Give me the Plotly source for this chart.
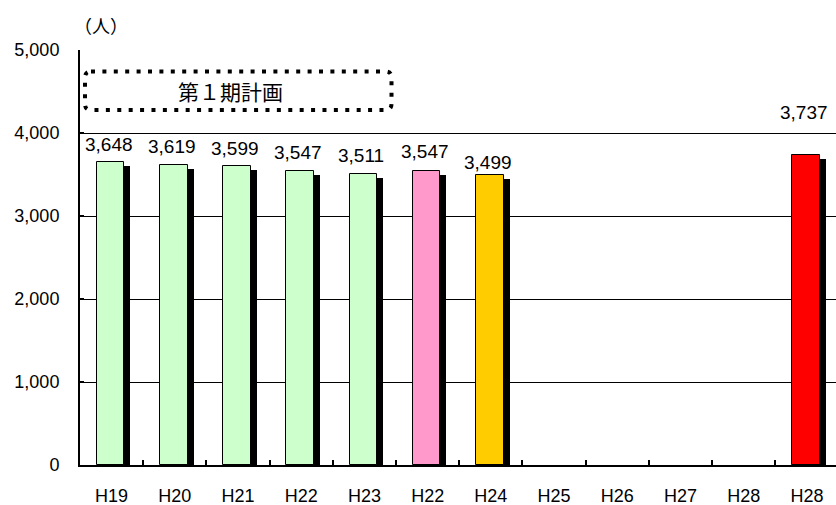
import plotly.graph_objects as go

# ---- data ----
categories = ["H19", "H20", "H21", "H22", "H23", "H22", "H24", "H25", "H26", "H27", "H28", "H28"]
values = [3648, 3619, 3599, 3547, 3511, 3547, 3499, None, None, None, None, 3737]
bar_colors = ["#CCFFCC", "#CCFFCC", "#CCFFCC", "#CCFFCC", "#CCFFCC", "#FF99CC", "#FFCC00",
              "#CCFFCC", "#CCFFCC", "#CCFFCC", "#CCFFCC", "#FF0000"]
y_ticks = [0, 1000, 2000, 3000, 4000, 5000]
grid_vals = [1000, 2000, 3000, 4000]
unit_label = "（人）"
box_label = "第１期計画"

# ---- style ----
W, H = 836, 505
ML, MR, MT, MB = 80, 0, 50, 40
PW, PH = W - ML - MR, H - MT - MB
Y_MAX = 5000
SHADOW_DROP = 4 * Y_MAX / PH          # ~4px in value units
label_shift = [18, 18, 18, 18, 18, 19, 12, 18, 18, 18, 18, 42]
NUM_FONT = "Liberation Sans, Arial, sans-serif"
CJK_FONT = "Noto Sans CJK JP, sans-serif"

x_idx = list(range(len(categories)))
shadow_vals = [None if v is None else v - SHADOW_DROP for v in values]

fig = go.Figure()
fig.add_trace(go.Bar(x=x_idx, y=shadow_vals, offset=-0.14, width=0.437,
                     marker=dict(color="black", line=dict(width=0)),
                     hoverinfo="skip", showlegend=False))
fig.add_trace(go.Bar(x=x_idx, y=values, offset=-0.235, width=0.437,
                     marker=dict(color=bar_colors, line=dict(color="black", width=1)),
                     showlegend=False))

annotations = []
for i, v in enumerate(values):
    if v is None:
        continue
    annotations.append(dict(x=i, y=v, xref="x", yref="y", text=f"{v:,}", showarrow=False,
                            yanchor="middle", xanchor="center", yshift=label_shift[i], xshift=-3,
                            font=dict(family=NUM_FONT, size=19, color="black")))

def px_to_paper(px, py):
    return (px - ML) / PW, (MT + PH - py) / PH

# unit label
ux, uy = px_to_paper(101, 25)
annotations.append(dict(x=ux, y=uy, xref="paper", yref="paper", text=unit_label, showarrow=False,
                        xanchor="center", yanchor="middle",
                        font=dict(family=CJK_FONT, size=18, color="black")))
# box label
bx, by = px_to_paper(230, 91)
annotations.append(dict(x=bx, y=by, xref="paper", yref="paper", text=box_label, showarrow=False,
                        xanchor="center", yanchor="middle",
                        font=dict(family=CJK_FONT, size=21, color="black")))

# dotted rounded box
L, R, T, B = px_to_paper(85, 0)[0], px_to_paper(391.5, 0)[0], px_to_paper(0, 71.5)[1], px_to_paper(0, 110)[1]
rx, ry = 6 / PW, 6 / PH
path = (f"M {L+rx},{T} L {R-rx},{T} Q {R},{T} {R},{T-ry} L {R},{B+ry} Q {R},{B} {R-rx},{B} "
        f"L {L+rx},{B} Q {L},{B} {L},{B+ry} L {L},{T-ry} Q {L},{T} {L+rx},{T} Z")
shapes = [dict(type="path", path=path, xref="paper", yref="paper",
               line=dict(color="black", width=4, dash="4px,7.4px"))]

fig.update_layout(
    width=W, height=H,
    margin=dict(l=ML, r=MR, t=MT, b=MB, pad=0, autoexpand=False),
    paper_bgcolor="white", plot_bgcolor="white",
    barmode="overlay", bargap=0,
    annotations=annotations, shapes=shapes,
    xaxis=dict(range=[-0.5, 11.46], tickmode="array", tickvals=x_idx, ticktext=categories,
               ticks="", showgrid=False, zeroline=False, automargin=False,
               showline=True, linecolor="black", linewidth=2,
               ticklabelstandoff=13,
               tickfont=dict(family=NUM_FONT, size=18, color="black"),
               minor=dict(tickmode="array", tickvals=[i + 0.5 for i in range(11)],
                          ticks="inside", ticklen=5, tickwidth=1.5, tickcolor="black", showgrid=False)),
    yaxis=dict(range=[0, Y_MAX], tickmode="array", tickvals=y_ticks, tickformat=",",
               ticks="inside", ticklen=4, tickcolor="black", tickwidth=1.5,
               showgrid=False, zeroline=False, automargin=False,
               showline=True, linecolor="black", linewidth=2,
               ticklabelstandoff=15,
               tickfont=dict(family=NUM_FONT, size=18, color="black"),
               minor=dict(tickmode="array", tickvals=grid_vals, ticks="",
                          showgrid=True, gridcolor="black", gridwidth=1)),
)

fig.write_html("out.html")
